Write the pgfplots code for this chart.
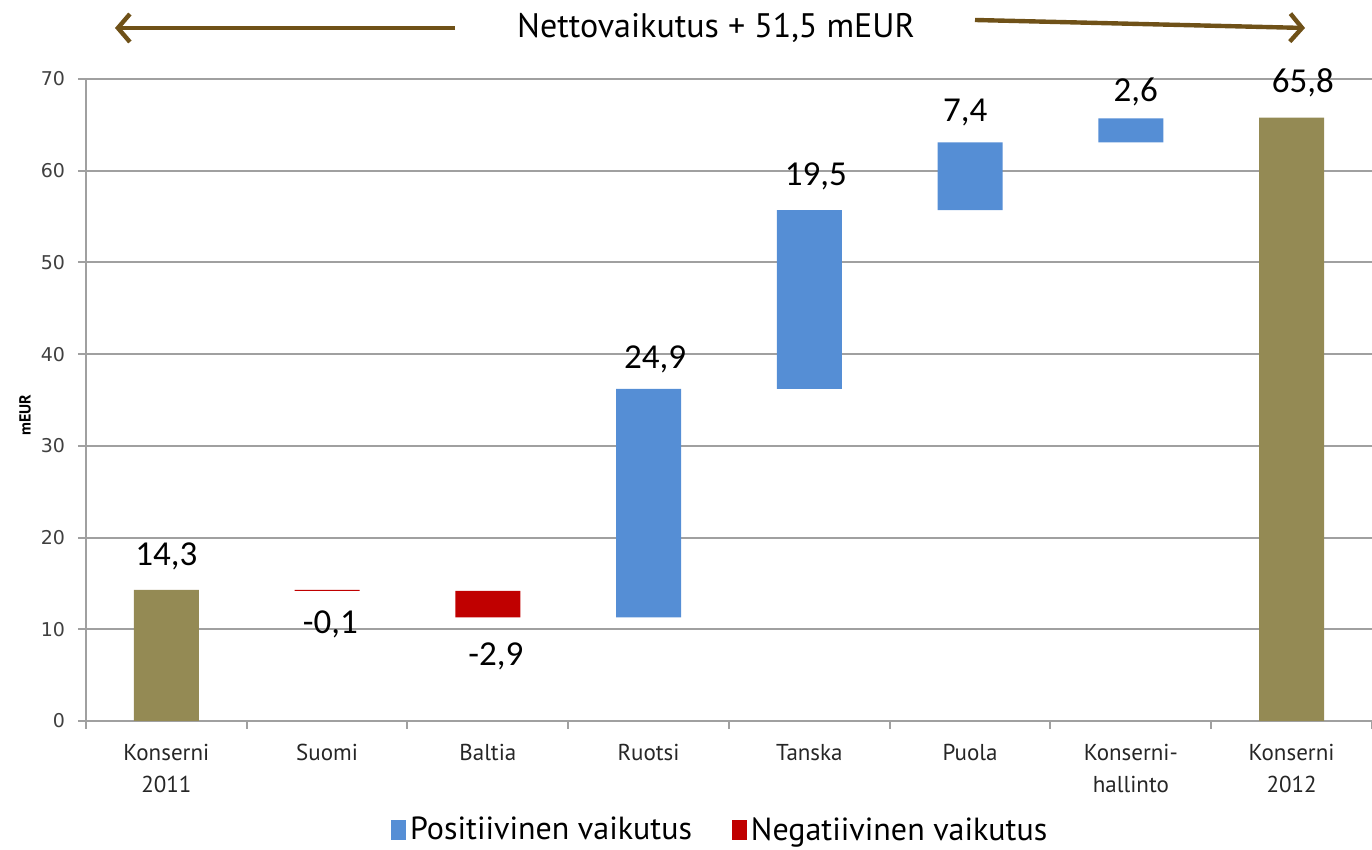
\documentclass[border=0pt]{standalone}
\usepackage{pgfplots}
\pgfplotsset{compat=1.18}
\usepackage{fontspec}
\setmainfont{PT Sans}
\newfontfamily\valfont{Carlito}
\newfontfamily\tickfont{DejaVu Sans}
\usetikzlibrary{arrows.meta}
\definecolor{olivebar}{HTML}{948A54}
\definecolor{posblue}{HTML}{558ED5}
\definecolor{negred}{HTML}{C00000}
\definecolor{arrowbrown}{HTML}{6F5118}
\definecolor{gridgray}{HTML}{A0A0A0}
\tikzset{vallabel/.style={font=\valfont\fontsize{17.5}{20}\selectfont, text=black}}
\begin{document}
\begin{tikzpicture}
\useasboundingbox (-43pt,-64.5pt) rectangle (643pt,360.5pt);
\begin{axis}[
  at={(0pt,0pt)}, anchor=south west,
  scale only axis, width=643pt, height=321pt,
  xmin=-0.5, xmax=7.5, ymin=0, ymax=70,
  ybar stacked, bar width=32.5pt,
  axis x line*=bottom, axis y line*=left,
  axis line style={-, gridgray, line width=1pt},
  xtick={-0.5,0.5,1.5,2.5,3.5,4.5,5.5,6.5,7.5},
  xticklabels={{Konserni\\2011},Suomi,Baltia,Ruotsi,Tanska,Puola,{Konserni-\\hallinto},{Konserni\\2012},{}},
  xticklabel style={font=\fontsize{11.5}{16}\selectfont, align=center, anchor=north, text=black!85, xshift=40.19pt, yshift=-4pt},
  ytick={0,10,...,70},
  yticklabels={0,10,20,30,40,50,60,70},
  tick style={draw=gridgray, line width=1pt},
  major tick length=4pt,
  tick align=outside,
  ymajorgrids, grid style={gridgray, line width=1pt},
  yticklabel style={font=\tickfont\fontsize{9.5}{11}\selectfont, text=black!75, xshift=-3pt},
  legend columns=2,
  legend style={at={(0.494,-0.17)}, anchor=center, draw=none, fill=none,
    font=\fontsize{16}{18}\selectfont},
  /tikz/every even column/.append style={column sep=18pt},
  clip=false,
]
% invisible base
\addplot[fill=none, draw=none, forget plot] coordinates {(0,0) (1,14.2) (2,11.3) (3,11.3) (4,36.2) (5,55.7) (6,63.1) (7,0)};
% totals
\addplot[fill=olivebar, draw=none, forget plot] coordinates {(0,14.3) (1,0) (2,0) (3,0) (4,0) (5,0) (6,0) (7,65.8)};
% positive
\addplot[fill=posblue, draw=none, legend image code/.code={\fill[posblue] (0pt,-5pt) rectangle (7.5pt,5pt);}] coordinates {(0,0) (1,0) (2,0) (3,24.9) (4,19.5) (5,7.4) (6,2.6) (7,0)};
\addlegendentry{Positiivinen vaikutus}
% negative
\addplot[fill=negred, draw=none, legend image code/.code={\fill[negred] (0pt,-5pt) rectangle (7.5pt,5pt);}] coordinates {(0,0) (1,0.1) (2,2.9) (3,0) (4,0) (5,0) (6,0) (7,0)};
\addlegendentry{Negatiivinen vaikutus}

\node[vallabel] at (axis cs:0,18.0) {14,3};
\node[vallabel] at (axis cs:1.02,10.5) {-0,1};
\node[vallabel] at (axis cs:2.05,7.0) {-2,9};
\node[vallabel] at (axis cs:3.04,39.4) {24,9};
\node[vallabel] at (axis cs:4.04,59.4) {19,5};
\node[vallabel] at (axis cs:4.97,66.3) {7,4};
\node[vallabel] at (axis cs:6.03,68.6) {2,6};
\node[vallabel] at (axis cs:7.07,69.6) {65,8};
\end{axis}
\node[rotate=90, font=\fontsize{8}{9}\selectfont\bfseries] at (-30.5pt,153pt) {mEUR};
\node[font=\fontsize{17}{20}\selectfont] at (315pt,346.5pt) {Nettovaikutus + 51,5 mEUR};
\draw[arrowbrown, line width=2.2pt, -{Straight Barb[length=6pt,width=14pt,line width=2.2pt]}] (184.5pt,346.5pt) -- (14.5pt,346.5pt);
\draw[arrowbrown, line width=2.2pt, -{Straight Barb[length=6pt,width=14pt,line width=2.2pt]}] (444.5pt,350.5pt) -- (609.5pt,346.5pt);
\end{tikzpicture}
\end{document}
